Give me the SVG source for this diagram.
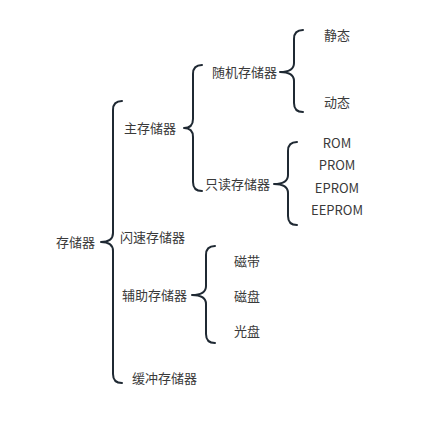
<svg xmlns="http://www.w3.org/2000/svg" width="431" height="421" viewBox="0 0 431 421">
<style>
.b{fill:none;stroke:#1f2933;stroke-width:2;stroke-linecap:round;stroke-linejoin:round}
text{font-family:"Noto Sans CJK SC","Noto Sans",sans-serif;font-size:13px;fill:#3a3a3a;dominant-baseline:central}
.c{text-anchor:middle}
</style>
<rect width="431" height="421" fill="#fff"/>
<g id="connectors">
<path class="b" d="M122,101 Q113,101 113,110 L113,233 Q113,242 101,242 Q113,242 113,251 L113,374 Q113,383 122,383"/>
<path class="b" d="M202,65 Q193,65 193,74 L193,119 Q193,128 184,128 Q193,128 193,137 L193,182 Q193,191 202,191"/>
<path class="b" d="M303,30 Q294,30 294,39 L294,63 Q294,72 280,72 Q294,72 294,81 L294,103 Q294,112 303,112"/>
<path class="b" d="M297,142 Q288,142 288,151 L288,175 Q288,184 274,184 Q288,184 288,193 L288,216 Q288,225 297,225"/>
<path class="b" d="M215,246 Q206,246 206,255 L206,286 Q206,295 192,295 Q206,295 206,304 L206,334 Q206,343 215,343"/>
</g>
<g id="n-root"><text x="56" y="241">存储器</text></g>
<g id="n-main"><text x="124" y="127">主存储器</text></g>
<g id="n-ram"><text x="212" y="71">随机存储器</text></g>
<g id="n-static"><text x="324" y="34.5">静态</text></g>
<g id="n-dynamic"><text x="324" y="101.5">动态</text></g>
<g id="n-rom-group"><text x="205" y="183">只读存储器</text></g>
<g id="n-rom"><text class="c" x="337" y="142">ROM</text></g>
<g id="n-prom"><text class="c" x="337" y="164">PROM</text></g>
<g id="n-eprom"><text class="c" x="337" y="187">EPROM</text></g>
<g id="n-eeprom"><text class="c" x="337" y="209">EEPROM</text></g>
<g id="n-flash"><text x="120" y="236">闪速存储器</text></g>
<g id="n-aux"><text x="122" y="294">辅助存储器</text></g>
<g id="n-tape"><text x="234" y="260">磁带</text></g>
<g id="n-disk"><text x="234" y="295">磁盘</text></g>
<g id="n-optical"><text x="234" y="330">光盘</text></g>
<g id="n-cache"><text x="132" y="377">缓冲存储器</text></g>
</svg>
